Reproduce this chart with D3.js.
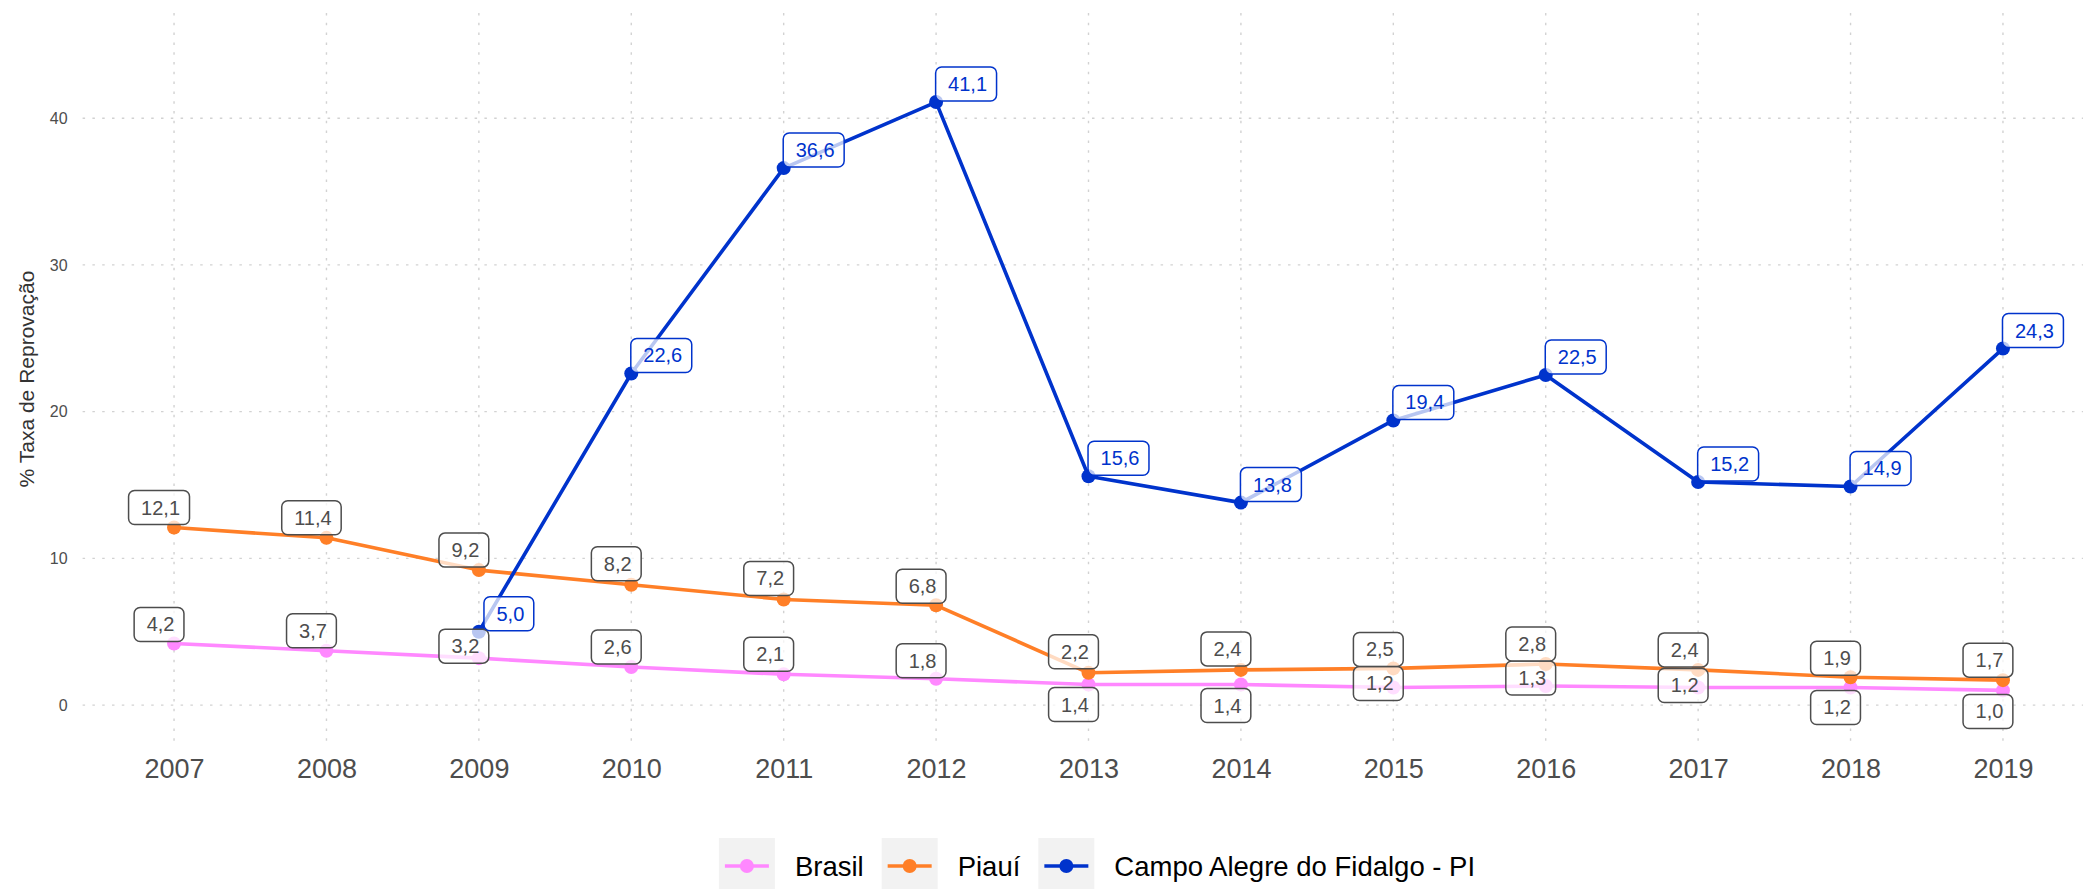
<!DOCTYPE html>
<html>
<head>
<meta charset="utf-8">
<script src="https://cdn.jsdelivr.net/npm/d3@7"></script>
<style>
  html, body { margin: 0; padding: 0; background: #ffffff; }
  svg { display: block; font-family: "Liberation Sans", Arial, Helvetica, sans-serif; }
</style>
</head>
<body>
<svg id="chart" width="2083" height="889"></svg>
<script>
// ---- data ----
const years = [2007, 2008, 2009, 2010, 2011, 2012, 2013, 2014, 2015, 2016, 2017, 2018, 2019];
const brasil = [4.2, 3.7, 3.2, 2.6, 2.1, 1.8, 1.4, 1.4, 1.2, 1.3, 1.2, 1.2, 1.0];
const piaui = [12.1, 11.4, 9.2, 8.2, 7.2, 6.8, 2.2, 2.4, 2.5, 2.8, 2.4, 1.9, 1.7];
const campoAlegre = [null, null, 5.0, 22.6, 36.6, 41.1, 15.6, 13.8, 19.4, 22.5, 15.2, 14.9, 24.3];
const seriesNames = ["Brasil", "Piauí", "Campo Alegre do Fidalgo - PI"];
const yTicks = [0, 10, 20, 30, 40];
const yTitle = "% Taxa de Reprovação";

// ---- label placement (pixel offsets of each label box from its point) ----
const labelDyBrasil = [-19, -20, -12, -20, -20, -18, 20, 21, -4, -8, -2, 20, 21];
const labelDyPiaui = [-20, -20, -20, -21, -21, -19, -21, -21, -19, -20, -20, -19, -20];
const labelDyCampo = [0, 0, -18, -18, -18, -18, -18, -18, -18, -18, -18, -18, -18];

// ---- styles ----
const colors = ["#ff88ff", "#ff7f27", "#0033cc"];
const labelTextColors = ["#4d4d4d", "#4d4d4d", "#0033cc"];
const labelBorderColors = ["#4d4d4d", "#4d4d4d", "#0033cc"];
const labelDx = [-15, -15, 30];
const pointRadius = 7;

const W = 2083, H = 889;
const panel = { left: 82.6, right: 2094.4, top: 13, bottom: 745 };

const series = seriesNames.map((name, i) => ({
  name,
  color: colors[i],
  values: [brasil, piaui, campoAlegre][i],
  dy: [labelDyBrasil, labelDyPiaui, labelDyCampo][i],
  dx: labelDx[i],
  textColor: labelTextColors[i],
  borderColor: labelBorderColors[i]
}));

const svg = d3.select("#chart");

const x = d3.scalePoint()
  .domain(years)
  .range([panel.left, panel.right])
  .padding(0.6);

const y = d3.scaleLinear()
  .domain([-2.72, 47.17])
  .range([panel.bottom, panel.top]);

// ---- grid ----
const grid = svg.append("g").attr("class", "grid");
grid.selectAll("line.h")
  .data(yTicks)
  .join("line")
  .attr("class", "h")
  .attr("x1", panel.left).attr("x2", W)
  .attr("y1", d => y(d)).attr("y2", d => y(d))
  .attr("stroke", "#d2d2d2")
  .attr("stroke-width", 1.4)
  .attr("stroke-dasharray", "2.5,7.3");
grid.selectAll("line.v")
  .data(years)
  .join("line")
  .attr("class", "v")
  .attr("x1", d => x(d)).attr("x2", d => x(d))
  .attr("y1", panel.top).attr("y2", panel.bottom)
  .attr("stroke", "#d2d2d2")
  .attr("stroke-width", 1.4)
  .attr("stroke-dasharray", "2.5,7.3");

// ---- axes ----
const yAxis = svg.append("g")
  .attr("transform", `translate(${panel.left - 15},0)`)
  .call(d3.axisLeft(y).tickValues(yTicks).tickSize(0).tickPadding(0));
yAxis.select(".domain").remove();
yAxis.selectAll("text")
  .attr("font-size", 16)
  .attr("fill", "#4d4d4d")
  .style("font-family", "Liberation Sans, Arial, sans-serif");

const xAxis = svg.append("g")
  .attr("transform", `translate(0,${768})`)
  .call(d3.axisBottom(x).tickSize(0).tickPadding(0));
xAxis.select(".domain").remove();
xAxis.selectAll("text")
  .attr("font-size", 27)
  .attr("fill", "#4d4d4d")
  .attr("dy", "0.36em")
  .style("font-family", "Liberation Sans, Arial, sans-serif");

svg.append("text")
  .attr("transform", `translate(26,${(panel.top + panel.bottom) / 2}) rotate(-90)`)
  .attr("text-anchor", "middle")
  .attr("dominant-baseline", "central")
  .attr("font-size", 21)
  .attr("fill", "#333333")
  .text(yTitle);

// ---- lines and points ----
const line = d3.line()
  .defined(d => d.v !== null)
  .x(d => x(d.year))
  .y(d => y(d.v));

const marks = svg.append("g").attr("class", "marks");
series.forEach(s => {
  const pts = years.map((yr, i) => ({ year: yr, v: s.values[i], i }));
  marks.append("path")
    .datum(pts)
    .attr("fill", "none")
    .attr("stroke", s.color)
    .attr("stroke-width", 3.6)
    .attr("stroke-linejoin", "round")
    .attr("d", line);
});
series.forEach(s => {
  const pts = years.map((yr, i) => ({ year: yr, v: s.values[i], i })).filter(d => d.v !== null);
  marks.append("g").selectAll("circle")
    .data(pts)
    .join("circle")
    .attr("cx", d => x(d.year))
    .attr("cy", d => y(d.v))
    .attr("r", pointRadius)
    .attr("fill", s.color);
});

// ---- value labels ----
const fmt = v => d3.format(".1f")(v).replace(".", ",");
const labels = svg.append("g").attr("class", "labels");
series.forEach(s => {
  const pts = years.map((yr, i) => ({ year: yr, v: s.values[i], i })).filter(d => d.v !== null);
  pts.forEach(d => {
    const cx = x(d.year) + s.dx;
    const cy = y(d.v) + s.dy[d.i];
    const g = labels.append("g").attr("transform", `translate(${cx},${cy})`);
    const rect = g.append("rect");
    const t = g.append("text")
      .attr("text-anchor", "middle")
      .attr("dominant-baseline", "central")
      .attr("x", 1.5)
      .attr("font-size", 20)
      .attr("fill", s.textColor)
      .text(fmt(d.v));
    const tw = t.node().getComputedTextLength();
    const bw = tw + 22, bh = 34;
    rect.attr("x", -bw / 2).attr("y", -bh / 2)
      .attr("width", bw).attr("height", bh)
      .attr("rx", 6).attr("ry", 6)
      .attr("fill", "rgba(255,255,255,0.72)")
      .attr("stroke", s.borderColor)
      .attr("stroke-width", 1.5);
  });
});

// ---- legend ----
const legend = svg.append("g").attr("class", "legend");
const keySize = 56, keyGap = 20, itemGap = 18, legendCy = 866;
let cursor = 0;
const items = series.map(s => {
  const g = legend.append("g");
  g.append("rect")
    .attr("x", 0).attr("y", -keySize / 2)
    .attr("width", keySize).attr("height", keySize)
    .attr("fill", "#f2f2f2");
  g.append("line")
    .attr("x1", 6).attr("x2", keySize - 6)
    .attr("y1", 0).attr("y2", 0)
    .attr("stroke", s.color).attr("stroke-width", 3.6);
  g.append("circle")
    .attr("cx", keySize / 2).attr("cy", 0).attr("r", pointRadius)
    .attr("fill", s.color);
  const t = g.append("text")
    .attr("x", keySize + keyGap)
    .attr("dominant-baseline", "central")
    .attr("font-size", 27.5)
    .attr("fill", "#000000")
    .text(s.name);
  const w = keySize + keyGap + t.node().getComputedTextLength();
  const item = { g, x: cursor, w };
  cursor += w + itemGap;
  return item;
});
const totalW = cursor - itemGap;
const legendLeft = 1097 - totalW / 2;
items.forEach(it => it.g.attr("transform", `translate(${legendLeft + it.x},${legendCy})`));
</script>
</body>
</html>
